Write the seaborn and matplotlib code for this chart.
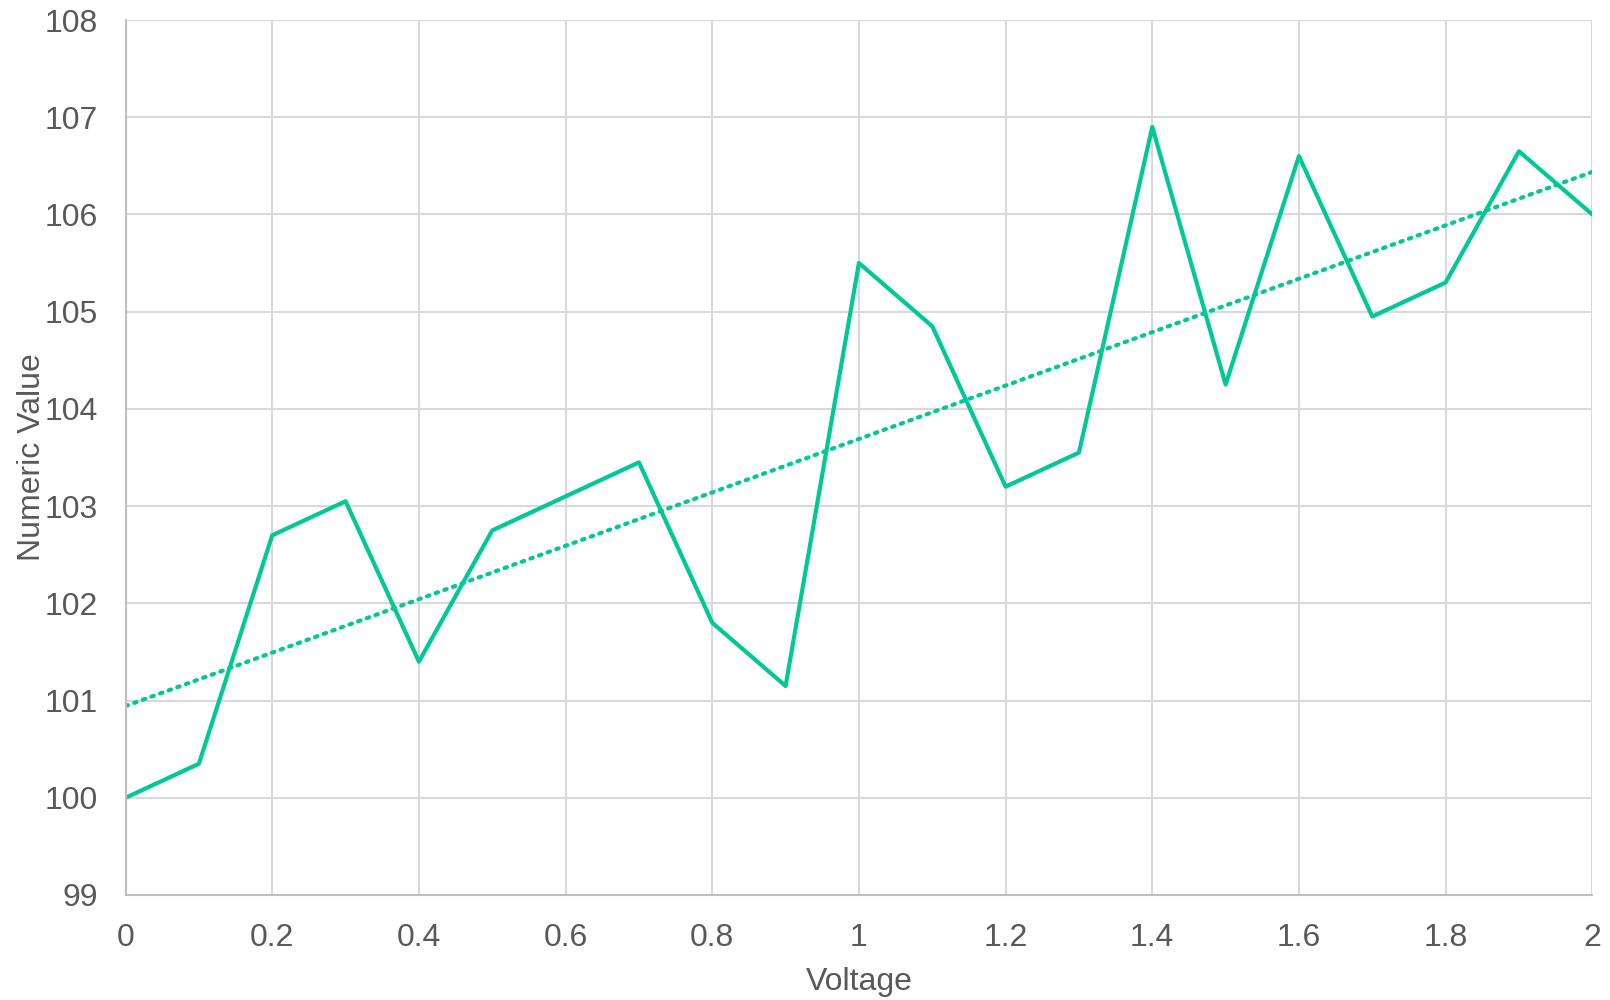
import numpy as np
import pandas as pd
import seaborn as sns
from matplotlib import pyplot as plt
from matplotlib.ticker import FuncFormatter, MultipleLocator

voltage = [0.0, 0.1, 0.2, 0.3, 0.4, 0.5, 0.6, 0.7, 0.8, 0.9, 1.0,
           1.1, 1.2, 1.3, 1.4, 1.5, 1.6, 1.7, 1.8, 1.9, 2.0]
numeric_value = [100.0, 100.35, 102.7, 103.05, 101.4, 102.75, 103.1, 103.45, 101.8, 101.15, 105.5,
                 104.85, 103.2, 103.55, 106.9, 104.25, 106.6, 104.95, 105.3, 106.65, 106.0]

df = pd.DataFrame({'Voltage': voltage, 'Numeric Value': numeric_value})

sns.set_theme(style='whitegrid')
plt.rcParams['font.family'] = ['Liberation Sans Narrow', 'Liberation Sans', 'DejaVu Sans']

green = '#00C896'
text_gray = '#595959'

fig = plt.figure(figsize=(16.1, 10), dpi=100)
ax = fig.add_axes([0.078, 0.105, 0.911, 0.875])

sns.lineplot(data=df, x='Voltage', y='Numeric Value', color=green, linewidth=3, ax=ax)

# linear trendline, dotted
slope, intercept = np.polyfit(df['Voltage'], df['Numeric Value'], 1)
trend_x = np.array([voltage[0], voltage[-1]])
ax.plot(trend_x, slope * trend_x + intercept, color=green, linewidth=3,
        linestyle=(0, (0.6, 1.6)), dash_capstyle='round')

ax.set_xlim(0, 2)
ax.set_ylim(99, 108)
ax.xaxis.set_major_locator(MultipleLocator(0.2))
ax.yaxis.set_major_locator(MultipleLocator(1))
ax.xaxis.set_major_formatter(FuncFormatter(lambda v, p: '%g' % round(v, 1)))

ax.grid(True, color='#d9d9d9', linewidth=1.5)
for side in ['top', 'right']:
    ax.spines[side].set_visible(False)
for side in ['left', 'bottom']:
    ax.spines[side].set_color('#bfbfbf')
    ax.spines[side].set_linewidth(1.5)

ax.tick_params(axis='both', labelsize=23, colors=text_gray, length=0)
ax.tick_params(axis='x', pad=20)
ax.tick_params(axis='y', pad=20)
ax.set_xlabel('Voltage', fontsize=23, color=text_gray, labelpad=10)
ax.set_ylabel('Numeric Value', fontsize=23, color=text_gray, labelpad=-2)

fig.savefig('out.png', dpi=100, facecolor='white')
